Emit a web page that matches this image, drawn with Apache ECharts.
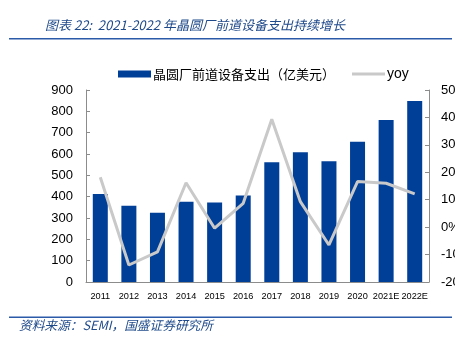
<!DOCTYPE html>
<html>
<head>
<meta charset="utf-8">
<script src="https://cdn.jsdelivr.net/npm/echarts@6/dist/echarts.min.js"></script>
<style>
html,body{margin:0;padding:0;background:#fff;}
#c{width:470px;height:343px;}
</style>
</head>
<body>
<div id="c"></div>
<script>
const categories = ['2011','2012','2013','2014','2015','2016','2017','2018','2019','2020','2021E','2022E'];
const spending = [412, 358, 325, 376, 373, 405, 561, 608, 566, 658, 759, 849];
const yoy = [18.2, -13.8, -9.0, 16.2, -0.4, 8.7, 39.3, 9.3, -6.5, 16.6, 16.0, 12.1];
const leftTicks = {min: 0, max: 900, interval: 100};
const rightTicks = {min: -20, max: 50, interval: 10};
const titleText = '图表 22:  2021-2022 年晶圆厂前道设备支出持续增长';
const sourceText = '资料来源：SEMI，国盛证券研究所';
const barName = '晶圆厂前道设备支出（亿美元）';
const lineName = 'yoy';

const chart = echarts.init(document.getElementById('c'));
const numFont = '"Liberation Sans"';
const cjk = '"Noto Sans CJK SC"';
chart.setOption({
  animation: false,
  grid: {left: 86, right: 41, top: 90, bottom: 61, containLabel: false, outerBoundsMode: 'none'},
  legend: {
    left: 113, top: 62,
    itemWidth: 33, itemHeight: 7, itemGap: 17,
    textStyle: {fontSize: 13, color: '#000', fontFamily: cjk, padding: [0,0,0,-3]},
    data: [
      {name: barName, icon: 'rect'},
      {name: lineName, icon: 'path://M0,0 H33 V3 H0 Z', textStyle: {fontFamily: numFont, fontSize: 14}}
    ]
  },
  xAxis: {
    type: 'category', data: categories,
    axisLine: {lineStyle: {color: '#8c8c8c'}},
    axisTick: {inside: true, length: 4, lineStyle: {color: '#8c8c8c'}},
    axisLabel: {fontSize: 9.2, color: '#000', fontFamily: numFont, margin: 10, interval: 0}
  },
  yAxis: [
    {
      type: 'value', min: leftTicks.min, max: leftTicks.max, interval: leftTicks.interval,
      splitLine: {show: false},
      axisLine: {show: true, lineStyle: {color: '#8c8c8c'}},
      axisTick: {show: true, inside: true, length: 4, lineStyle: {color: '#8c8c8c'}},
      axisLabel: {fontSize: 13, color: '#000', fontFamily: numFont, margin: 13}
    },
    {
      type: 'value', min: rightTicks.min, max: rightTicks.max, interval: rightTicks.interval,
      splitLine: {show: false},
      axisLine: {show: true, lineStyle: {color: '#8c8c8c'}},
      axisTick: {show: true, inside: true, length: 4, lineStyle: {color: '#8c8c8c'}},
      axisLabel: {fontSize: 13, color: '#000', fontFamily: numFont, margin: 12, formatter: '{value}%'}
    }
  ],
  series: [
    {
      name: barName, type: 'bar', data: spending, barWidth: 15,
      itemStyle: {color: '#003f98'}
    },
    {
      name: lineName, type: 'line', yAxisIndex: 1, data: yoy,
      showSymbol: false, symbol: 'none',
      lineStyle: {color: '#c9c9c9', width: 3},
      itemStyle: {color: '#c9c9c9'}
    }
  ],
  graphic: [
    {type: 'rect', z: 100, shape: {x: 455, y: 0, width: 15, height: 343}, style: {fill: '#ffffff'}},
    {type: 'text', left: 45, top: 19, style: {text: titleText, fill: '#1f4a8a', font: 'italic 13px ' + cjk}},
    {type: 'rect', shape: {x: 9, y: 38, width: 443, height: 1.5}, style: {fill: '#2a5aa8'}},
    {type: 'rect', shape: {x: 9, y: 316.5, width: 443, height: 1.5}, style: {fill: '#2a5aa8'}},
    {type: 'text', left: 19, top: 319, style: {text: sourceText, fill: '#1f4a8a', font: 'italic 12.7px ' + cjk}}
  ]
});
</script>
</body>
</html>
